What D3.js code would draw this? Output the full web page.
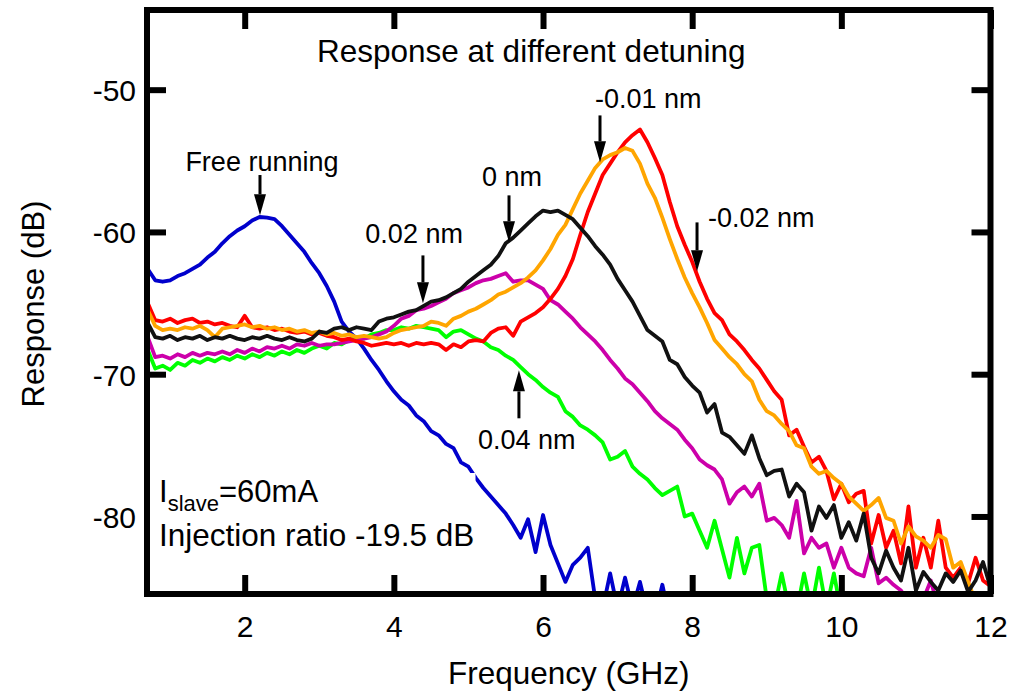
<!DOCTYPE html>
<html>
<head>
<meta charset="utf-8">
<script src="https://cdn.jsdelivr.net/npm/d3@7"></script>
<style>
  html, body { margin: 0; padding: 0; background: #fff; }
  svg { display: block; font-family: "Liberation Sans", Arial, Helvetica, sans-serif; }
</style>
</head>
<body>
<svg id="chart" width="1013" height="698"></svg>
<script>
// Modulation frequency sweep (GHz)
const frequency = [
  0.7,0.8,0.9,1.0,1.1,1.2,1.3,1.4,1.5,1.6,
  1.7,1.8,1.9,2.0,2.1,2.2,2.3,2.4,2.5,2.6,
  2.7,2.8,2.9,3.0,3.1,3.2,3.3,3.4,3.5,3.6,
  3.7,3.8,3.9,4.0,4.1,4.2,4.3,4.4,4.5,4.6,
  4.7,4.8,4.9,5.0,5.1,5.2,5.3,5.4,5.5,5.6,
  5.7,5.8,5.9,6.0,6.1,6.2,6.3,6.4,6.5,6.6,
  6.7,6.8,6.9,7.0,7.1,7.2,7.3,7.4,7.5,7.6,
  7.7,7.8,7.9,8.0,8.1,8.2,8.3,8.4,8.5,8.6,
  8.7,8.8,8.9,9.0,9.1,9.2,9.3,9.4,9.5,9.6,
  9.7,9.8,9.9,10.0,10.1,10.2,10.3,10.4,10.5,10.6,
  10.7,10.8,10.9,11.0,11.1,11.2,11.3,11.4,11.5,11.6,
  11.7,11.8,11.9,12.0
];

// Response (dB) of the slave laser, one array per detuning
const freeRunning = [
  -62.6,-63.4,-63.5,-63.4,-63.1,-62.9,-62.6,-62.3,-61.8,-61.4,
  -60.8,-60.3,-59.9,-59.6,-59.2,-58.95,-59.0,-59.1,-59.6,-60.2,
  -60.8,-61.4,-62.2,-62.9,-63.8,-64.9,-66.3,-67.0,-67.5,-68.2,
  -69.0,-69.7,-70.5,-71.2,-71.8,-72.2,-72.9,-73.3,-74.0,-74.3,
  -74.9,-75.2,-76.2,-76.5,-77.3,-78.0,-78.6,-79.2,-79.8,-80.6,
  -81.5,-80.2,-82.5,-79.9,-82.0,-83.3,-84.6,-83.4,-82.9,-82.2,
  -85.8,-86.5,-84.0,-86.5,-84.3,-86.5,-84.6,-86.8,-87.0,-84.8,
  -87.2,-87.6,-87.9,-88.1,-87.7,-88.3,-88.0,-88.4,-88.2,-88.6,
  -88.3,-88.7,-88.5,-88.9,-88.6,-89.0,-88.7,-89.1,-88.8,-89.2,
  -89.0,-89.3,-89.1,-89.4,-89.2,-89.5,-89.3,-89.6,-89.4,-89.7,
  -89.5,-89.8,-89.6,-89.9,-89.7,-90.0,-89.8,-90.1,-89.9,-90.2,
  -90.0,-90.3,-90.1,-90.4
];

const detuning004 = [
  -68.3,-69.6,-69.4,-69.7,-69.2,-69.4,-69.0,-69.2,-68.9,-69.1,
  -68.8,-69.0,-68.7,-68.9,-68.6,-68.8,-68.5,-68.7,-68.4,-68.6,
  -68.3,-68.5,-68.2,-68.0,-68.2,-67.8,-67.9,-67.6,-67.4,-67.5,
  -67.2,-67.1,-66.9,-66.9,-66.7,-66.8,-66.6,-66.7,-66.8,-66.9,
  -67.4,-67.0,-66.9,-67.2,-67.5,-67.7,-68.1,-68.3,-68.7,-69.0,
  -69.5,-70.0,-70.4,-70.9,-71.3,-71.6,-72.6,-73.0,-73.6,-73.9,
  -74.3,-74.8,-76.0,-75.8,-75.4,-76.5,-77.0,-77.4,-78.0,-78.5,
  -78.2,-77.9,-80.0,-79.8,-81.0,-82.2,-80.3,-82.3,-84.3,-81.5,
  -84.0,-82.2,-82.0,-85.8,-86.5,-84.0,-86.5,-86.7,-84.0,-86.5,
  -83.6,-86.5,-84.0,-86.8,-87.2,-87.5,-87.8,-88.0,-88.2,-88.4,
  -88.5,-88.7,-88.8,-89.0,-89.1,-89.3,-89.4,-89.6,-89.7,-89.9,
  -90.0,-90.2,-90.3,-90.5
];

const detuning002 = [
  -67.4,-68.8,-68.7,-68.9,-68.6,-68.8,-68.5,-68.7,-68.5,-68.6,
  -68.4,-68.6,-68.3,-68.5,-68.2,-68.4,-68.1,-68.2,-68.0,-68.2,
  -67.9,-68.0,-67.8,-68.0,-67.9,-67.9,-67.8,-67.7,-67.6,-67.5,
  -67.4,-67.2,-67.0,-66.6,-66.1,-65.9,-65.5,-65.4,-65.2,-64.95,
  -64.7,-64.3,-64.1,-63.9,-63.6,-63.4,-63.3,-63.1,-62.9,-63.5,
  -63.4,-63.4,-63.7,-64.0,-64.8,-65.1,-65.6,-66.1,-66.7,-67.2,
  -67.7,-68.3,-69.0,-69.6,-70.3,-70.7,-71.3,-71.9,-72.6,-73.1,
  -73.5,-73.9,-74.6,-75.2,-76.0,-76.4,-76.7,-77.4,-79.1,-78.3,
  -77.9,-78.6,-77.7,-80.3,-80.1,-80.6,-81.5,-78.9,-82.6,-81.5,
  -82.2,-81.9,-83.6,-82.2,-83.6,-84.0,-84.2,-82.2,-84.7,-84.3,
  -84.8,-85.2,-86.0,-86.5,-85.8,-84.5,-86.5,-87.0,-87.3,-87.6,
  -87.9,-88.2,-88.5,-88.8
];

const detuning0 = [
  -66.4,-67.4,-67.5,-67.3,-67.6,-67.4,-67.5,-67.3,-67.6,-67.4,
  -67.5,-67.3,-67.5,-67.6,-67.4,-67.5,-67.3,-67.5,-67.6,-67.4,
  -67.6,-67.7,-67.5,-67.0,-67.1,-66.8,-66.7,-66.9,-66.7,-66.8,
  -66.9,-66.3,-66.1,-66.0,-65.8,-65.6,-65.5,-65.2,-64.9,-64.8,
  -64.6,-64.3,-64.0,-63.5,-63.1,-62.7,-62.3,-61.7,-60.8,-60.4,
  -59.9,-59.4,-58.9,-58.5,-58.6,-58.5,-58.8,-59.1,-59.7,-60.3,
  -61.0,-61.6,-62.3,-63.3,-64.1,-64.9,-65.9,-66.9,-67.3,-67.7,
  -69.0,-69.3,-70.2,-70.8,-71.3,-72.7,-72.1,-74.1,-74.4,-75.0,
  -75.6,-74.3,-75.9,-77.1,-76.8,-76.7,-78.6,-77.7,-78.3,-81.0,
  -79.3,-80.1,-79.2,-81.5,-80.4,-81.7,-79.8,-82.9,-84.0,-82.4,
  -83.6,-84.5,-82.2,-85.2,-83.9,-84.6,-85.2,-84.0,-84.6,-83.8,
  -85.3,-84.5,-83.2,-85.0
];

const detuningM001 = [
  -65.5,-66.6,-66.9,-66.8,-66.9,-66.7,-66.8,-66.6,-66.9,-67.4,
  -66.8,-66.7,-66.6,-66.5,-66.7,-66.6,-66.8,-66.7,-66.9,-66.8,
  -67.0,-66.9,-67.1,-67.0,-67.2,-67.1,-67.3,-67.2,-67.4,-67.3,
  -67.4,-67.5,-67.4,-67.1,-66.9,-66.8,-66.7,-66.6,-66.3,-66.4,
  -66.6,-66.1,-65.9,-65.6,-65.4,-65.1,-64.8,-64.4,-64.2,-63.9,
  -63.6,-63.2,-62.7,-62.0,-61.2,-60.2,-59.5,-58.4,-57.3,-56.4,
  -55.5,-54.9,-54.6,-54.4,-54.1,-54.3,-55.2,-56.6,-57.6,-59.0,
  -60.5,-61.9,-63.2,-64.3,-65.3,-66.4,-67.6,-68.2,-68.8,-69.3,
  -70.0,-70.5,-71.8,-72.6,-72.9,-73.5,-74.0,-75.0,-75.2,-76.5,
  -77.0,-76.8,-77.3,-77.7,-78.6,-79.1,-79.6,-79.2,-78.7,-80.1,
  -80.3,-81.9,-80.7,-81.4,-81.7,-82.2,-81.3,-81.6,-83.6,-83.2,
  -84.6,-86.0,-86.5,-86.8
];

const detuningM002 = [
  -65.0,-66.2,-66.3,-66.1,-66.4,-66.2,-66.1,-66.4,-66.3,-66.5,
  -66.4,-66.6,-66.7,-65.9,-66.7,-66.8,-66.7,-66.9,-66.8,-67.0,
  -67.1,-67.0,-67.2,-67.1,-67.3,-67.4,-67.6,-67.5,-67.7,-67.8,
  -68.0,-67.9,-67.8,-67.9,-67.8,-68.0,-67.8,-67.9,-67.8,-67.9,
  -68.3,-67.9,-68.1,-67.7,-67.6,-67.7,-67.1,-66.8,-66.7,-67.3,
  -66.3,-66.0,-65.7,-65.3,-64.7,-64.0,-63.1,-61.9,-60.2,-58.6,
  -57.3,-56.0,-55.2,-54.4,-53.7,-53.2,-52.8,-53.7,-54.8,-56.0,
  -57.9,-59.6,-60.9,-62.1,-63.5,-64.7,-65.7,-66.2,-67.2,-67.7,
  -68.3,-69.0,-69.6,-70.4,-71.2,-71.8,-74.3,-73.9,-75.1,-76.2,
  -75.8,-76.8,-78.8,-77.7,-79.0,-78.4,-78.2,-81.9,-79.9,-82.2,
  -81.0,-83.3,-79.3,-83.6,-81.5,-83.6,-80.3,-83.6,-84.3,-83.6,
  -84.7,-82.9,-84.5,-84.9
];

const xTickValues = [2, 4, 6, 8, 10, 12];
const yTickValues = [-50, -60, -70, -80];

// Curves in drawing order (later ones sit on top)
const curves = [
  { values: freeRunning,  color: "#0000cc" },
  { values: detuning004,  color: "#00ff00" },
  { values: detuning002,  color: "#cc00aa" },
  { values: detuningM002, color: "#ff0000" },
  { values: detuningM001, color: "#ffa500" },
  { values: detuning0,    color: "#111111" }
];

// Arrow annotations: arrow at frequency f from tail to tip (dB), label at (lf, ldB)
const annotations = [
  { text: "Free running", f: 2.205, tail: -56.0,  tip: -58.83, lf: 2.231, ldB: -55.69, anchor: "middle" },
  { text: "0.02 nm",      f: 4.39,  tail: -61.65, tip: -65.02, lf: 4.926, ldB: -60.80, anchor: "end" },
  { text: "0 nm",         f: 5.544, tail: -57.43, tip: -60.73, lf: 5.584, ldB: -56.74, anchor: "middle" },
  { text: "-0.01 nm",     f: 6.764, tail: -51.81, tip: -55.11, lf: 6.696, ldB: -51.31, anchor: "start" },
  { text: "-0.02 nm",     f: 8.065, tail: -59.33, tip: -62.77, lf: 8.211, ldB: -59.68, anchor: "start" },
  { text: "0.04 nm",      f: 5.677, tail: -73.10, tip: -69.73, lf: 5.127, ldB: -75.28, anchor: "start" }
];

const svg = d3.select("#chart");
const plotLeft = 147, plotRight = 990.5, plotTop = 10, plotBottom = 594;

const x = d3.scaleLinear().domain([0.69, 12]).range([plotLeft, plotRight]);
const y = d3.scaleLinear().domain([-85.45, -44.4]).range([plotBottom, plotTop]);

svg.append("defs").append("clipPath").attr("id", "plot-clip")
  .append("rect")
  .attr("x", plotLeft).attr("y", plotTop)
  .attr("width", plotRight - plotLeft).attr("height", plotBottom - plotTop);

// Curves
const line = d3.line()
  .x((d, i) => x(frequency[i]))
  .y(d => y(d));

const curveGroup = svg.append("g").attr("clip-path", "url(#plot-clip)");
curves.forEach(c => {
  curveGroup.append("path")
    .attr("d", line(c.values))
    .attr("fill", "none")
    .attr("stroke", c.color)
    .attr("stroke-width", 3.8)
    .attr("stroke-linejoin", "round")
    .attr("stroke-linecap", "round");
});

// Inward ticks on all four sides
const tickLen = 19;
const plainNumber = d => String(d);
const styleAxis = g => {
  g.select(".domain").remove();
  g.selectAll(".tick line").attr("stroke", "#000").attr("stroke-width", 6);
};

svg.append("g")
  .attr("transform", `translate(0,${plotBottom})`)
  .call(d3.axisBottom(x).tickValues(xTickValues).tickSizeInner(-tickLen).tickSizeOuter(0).tickFormat(plainNumber))
  .call(styleAxis)
  .call(g => g.selectAll(".tick text")
    .attr("font-size", 30).attr("fill", "#000")
    .attr("font-family", "Liberation Sans, Arial, sans-serif")
    .attr("y", 43).attr("dy", null));

svg.append("g")
  .attr("transform", `translate(0,${plotTop})`)
  .call(d3.axisTop(x).tickValues(xTickValues).tickSizeInner(-tickLen).tickSizeOuter(0).tickFormat(""))
  .call(styleAxis);

svg.append("g")
  .attr("transform", `translate(${plotLeft},0)`)
  .call(d3.axisLeft(y).tickValues(yTickValues).tickSizeInner(-tickLen).tickSizeOuter(0).tickPadding(11).tickFormat(plainNumber))
  .call(styleAxis)
  .call(g => g.selectAll(".tick text")
    .attr("font-size", 30).attr("fill", "#000")
    .attr("font-family", "Liberation Sans, Arial, sans-serif")
    .attr("dy", "0.36em"));

svg.append("g")
  .attr("transform", `translate(${plotRight},0)`)
  .call(d3.axisRight(y).tickValues(yTickValues).tickSizeInner(-tickLen).tickSizeOuter(0).tickFormat(""))
  .call(styleAxis);

// Info box (white background sits over the frame edge)
svg.append("rect")
  .attr("x", 148.5).attr("y", 473).attr("width", 327).attr("height", 80)
  .attr("fill", "#fff");

const info1 = svg.append("text")
  .attr("x", 159).attr("y", 502).attr("font-size", 31).attr("fill", "#000");
info1.append("tspan").text("I");
info1.append("tspan").attr("font-size", 22).attr("dy", 9).text("slave");
info1.append("tspan").attr("dy", -9).text("=60mA");

svg.append("text")
  .attr("x", 159).attr("y", 546).attr("font-size", 31.5).attr("fill", "#000")
  .text("Injection ratio -19.5 dB");

// Frame
svg.append("rect")
  .attr("x", plotLeft).attr("y", plotTop)
  .attr("width", plotRight - plotLeft).attr("height", plotBottom - plotTop)
  .attr("fill", "none").attr("stroke", "#000").attr("stroke-width", 6);

// Title and axis titles
svg.append("text")
  .attr("x", 317).attr("y", 62).attr("font-size", 31.5).attr("fill", "#000")
  .text("Response at different detuning");

svg.append("text")
  .attr("x", (plotLeft + plotRight) / 2).attr("y", 684)
  .attr("text-anchor", "middle").attr("font-size", 31.5).attr("fill", "#000")
  .text("Frequency (GHz)");

svg.append("text")
  .attr("transform", `translate(44,${(plotTop + plotBottom) / 2 + 2}) rotate(-90)`)
  .attr("text-anchor", "middle").attr("font-size", 31).attr("fill", "#000")
  .text("Response (dB)");

// Arrow annotations
const annG = svg.append("g");
annotations.forEach(a => {
  const ax = x(a.f), y0 = y(a.tail), y1 = y(a.tip);
  const dir = Math.sign(y1 - y0);
  const headLen = 21, headHalf = 6;
  annG.append("line")
    .attr("x1", ax).attr("y1", y0)
    .attr("x2", ax).attr("y2", y1 - dir * headLen)
    .attr("stroke", "#000").attr("stroke-width", 3);
  annG.append("path")
    .attr("d", `M${ax - headHalf},${y1 - dir * headLen} L${ax + headHalf},${y1 - dir * headLen} L${ax},${y1} Z`)
    .attr("fill", "#000");
  annG.append("text")
    .attr("x", x(a.lf)).attr("y", y(a.ldB))
    .attr("text-anchor", a.anchor)
    .attr("font-size", 27).attr("fill", "#000")
    .text(a.text);
});
</script>
</body>
</html>
